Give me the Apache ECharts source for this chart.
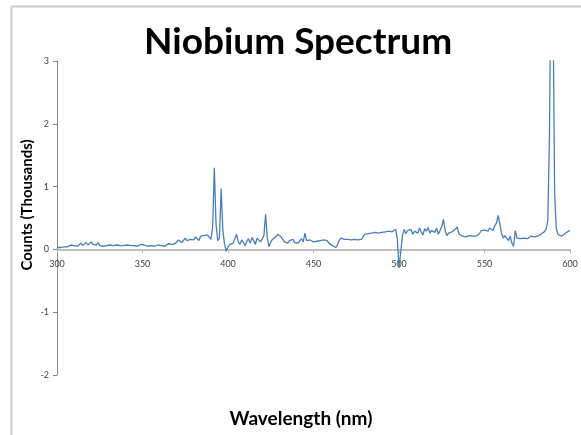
<!DOCTYPE html>
<html>
<head>
<meta charset="utf-8">
<script src="https://cdn.jsdelivr.net/npm/echarts@6/dist/echarts.min.js"></script>
<style>
  html, body { margin: 0; padding: 0; background: #fff; }
  #chart { width: 581px; height: 435px; }
</style>
</head>
<body>
<div id="chart"></div>
<script>
// Wavelength grid (nm), one sample per nanometre
const wavelengthStart = 300;
const wavelengthEnd = 600;

// Counts axis range (thousands)
const countsMin = -2;
const countsMax = 3;

// Measured counts in thousands, 300 nm .. 600 nm
const counts = [
  0.03,0.04,0.03,0.05,0.04,0.06,0.04,0.05,0.07,0.05,
  0.06,0.08,0.05,0.07,0.10,0.06,0.08,0.11,0.07,0.09,
  0.12,0.08,0.10,0.07,0.11,0.06,0.08,0.05,0.07,0.06,
  0.05,0.07,0.04,0.06,0.05,0.07,0.05,0.06,0.04,0.06,
  0.05,0.07,0.05,0.06,0.04,0.06,0.07,0.05,0.06,0.08,
  0.05,0.07,0.06,0.05,0.08,0.06,0.07,0.05,0.06,0.07,
  0.08,0.06,0.07,0.05,0.07,0.09,0.06,0.08,0.07,0.09,
  0.10,0.15,0.12,0.11,0.13,0.18,0.14,0.12,0.16,0.19,
  0.15,0.20,0.17,0.14,0.21,0.18,0.22,0.19,0.23,0.20,
  0.16,0.35,1.30,0.40,0.14,0.18,0.97,0.30,0.08,-0.03,
  0.04,0.08,0.06,0.10,0.07,0.24,0.12,0.08,0.15,0.11,
  0.06,0.13,0.17,0.10,0.19,0.14,0.08,0.18,0.21,0.12,
  0.15,0.22,0.56,0.18,0.04,0.12,0.16,0.14,0.20,0.24,
  0.27,0.20,0.16,0.12,0.15,0.10,0.14,0.12,0.16,0.11,
  0.14,0.10,0.13,0.17,0.12,0.26,0.14,0.11,0.15,0.13,
  0.12,0.15,0.13,0.16,0.14,0.11,0.15,0.12,0.14,0.10,
  0.08,0.06,0.04,0.03,0.07,0.14,0.18,0.21,0.16,0.13,
  0.16,0.18,0.15,0.17,0.16,0.18,0.15,0.17,0.16,0.19,
  0.24,0.22,0.25,0.23,0.26,0.24,0.27,0.25,0.26,0.28,
  0.27,0.25,0.28,0.26,0.29,0.27,0.28,0.30,0.32,0.18,
  -0.30,-0.05,0.22,0.32,0.25,0.30,0.27,0.32,0.24,0.29,
  0.31,0.26,0.34,0.28,0.23,0.33,0.29,0.35,0.26,0.30,
  0.32,0.27,0.34,0.24,0.30,0.36,0.48,0.30,0.22,0.26,
  0.24,0.28,0.25,0.32,0.36,0.25,0.22,0.21,0.22,0.20,
  0.21,0.22,0.20,0.21,0.22,0.21,0.23,0.25,0.30,0.28,
  0.31,0.33,0.29,0.34,0.32,0.30,0.38,0.42,0.54,0.40,
  0.25,0.18,0.22,0.20,0.14,0.21,0.10,0.05,0.30,0.18,
  0.20,0.17,0.19,0.18,0.20,0.17,0.19,0.21,0.18,0.20,
  0.19,0.21,0.22,0.24,0.26,0.28,0.32,0.45,1.80,5.00,
  4.20,0.90,0.32,0.24,0.22,0.21,0.23,0.25,0.27,0.29,
  0.30
];

const wavelengths = counts.map((_, i) => wavelengthStart + i);
const points = wavelengths.map((w, i) => [w, counts[i]]);

const font = 'Lato, "Open Sans", sans-serif';

// Plot area
const gridTop = 61;
const gridBottom = 60;
const plotHeight = 435 - gridTop - gridBottom;
// lift the wavelength axis from the bottom edge up to the zero-count line
const zeroLift = plotHeight * (0 - countsMin) / (countsMax - countsMin);

const chart = echarts.init(document.getElementById('chart'), null, { renderer: 'canvas' });
chart.setOption({
  animation: false,
  backgroundColor: '#ffffff',
  title: {
    text: 'Niobium Spectrum',
    left: 139,
    top: 19,
    textStyle: { fontFamily: font, fontWeight: 'bold', fontSize: 37, color: '#000' }
  },
  graphic: [
    {
      // frame edge along the top and left
      type: 'polyline',
      shape: { points: [[11.5, 435], [11.5, 6.5], [581, 6.5]] },
      style: { stroke: '#cccccc', lineWidth: 2, fill: null },
      silent: true
    },
    {
      // y-axis title
      type: 'text',
      x: 27,
      y: 205,
      rotation: Math.PI / 2,
      style: {
        text: 'Counts (Thousands)',
        fontFamily: font, fontWeight: 'bold', fontSize: 15, fill: '#000',
        align: 'center', verticalAlign: 'middle'
      },
      silent: true
    },
    {
      // x-axis title
      type: 'text',
      x: 301,
      y: 419,
      style: {
        text: 'Wavelength (nm)',
        fontFamily: font, fontWeight: 'bold', fontSize: 19, fill: '#000',
        align: 'center', verticalAlign: 'middle'
      },
      silent: true
    }
  ],
  grid: { left: 57, right: 11, top: gridTop, bottom: gridBottom },
  xAxis: {
    type: 'value',
    position: 'bottom',
    offset: -zeroLift,
    min: wavelengthStart,
    max: wavelengthEnd,
    interval: 50,
    axisLine: { onZero: false, lineStyle: { color: '#bfbfbf', width: 2 } },
    axisTick: { show: true, length: 4, lineStyle: { color: '#bfbfbf' } },
    axisLabel: { fontFamily: font, fontSize: 9, color: '#404040', margin: 10 },
    splitLine: { show: false }
  },
  yAxis: {
    type: 'value',
    min: countsMin,
    max: countsMax,
    interval: 1,
    axisLine: { show: true, onZero: false, lineStyle: { color: '#868686', width: 1 } },
    axisTick: { show: true, length: 4, lineStyle: { color: '#868686' } },
    axisLabel: { fontFamily: font, fontSize: 9, color: '#404040', margin: 8 },
    splitLine: { show: false }
  },
  series: [{
    type: 'line',
    data: points,
    showSymbol: false,
    clip: true,
    lineStyle: { color: '#4a7ebb', width: 1.3 }
  }]
});
</script>
</body>
</html>
